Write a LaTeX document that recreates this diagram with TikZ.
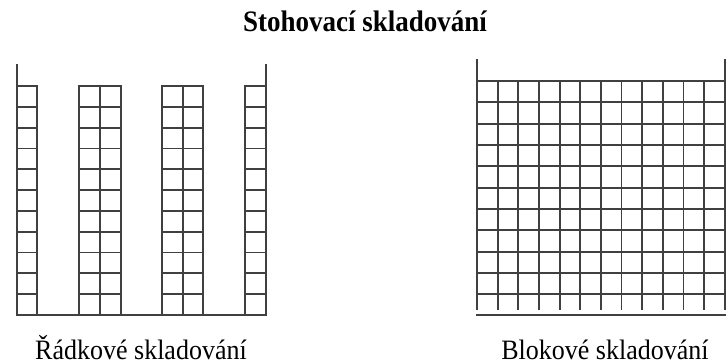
\documentclass[tikz,border=0pt]{standalone}
\usepackage{fontspec}
\setmainfont{Liberation Serif}
\begin{document}
\begin{tikzpicture}[x=1pt,y=-1pt,
  rack/.style={line width=1.8pt, draw=black!75, line cap=rect},
  lbl/.style={font=\fontsize{26}{30}\selectfont, inner sep=0pt, anchor=base},
  ttl/.style={font=\bfseries\fontsize{27}{32}\selectfont, inner sep=0pt, anchor=base}]
\useasboundingbox (0,0) rectangle (726,364);
\node[ttl] (title) at (365,31) {\scalebox{1}[1.1]{Stohovací skladování}};
% row storage
\draw[rack] (17,65) -- (17,315) -- (266,315) -- (266,65);
\foreach \a/\b in {17/37, 79/121, 162/203, 245/266}{
  \draw[rack] (\a,86) rectangle (\b,315);
  \foreach \k in {0,...,10}{
    \draw[rack] (\a,86+20.82*\k) -- (\b,86+20.82*\k);
  }
}
\draw[rack] (100,86) -- (100,315);
\draw[rack] (183,86) -- (183,315);
% block storage
\draw[rack] (477,60) -- (477,309);
\draw[rack] (724.8,60) -- (724.8,309);
\foreach \k in {1,...,11}{
  \draw[rack] (477+20.65*\k,81) -- (477+20.65*\k,309);
}
\foreach \k in {0,...,10}{
  \draw[rack] (477,81+21.33*\k) -- (724.8,81+21.33*\k);
}
\draw[rack] (477,315) -- (724.8,315);
\node[lbl] (rad) at (141,359) {\scalebox{1}[1.08]{Řádkové skladování}};
\node[lbl] (blok) at (605,359) {\scalebox{1}[1.08]{Blokové skladování}};
\end{tikzpicture}
\end{document}
